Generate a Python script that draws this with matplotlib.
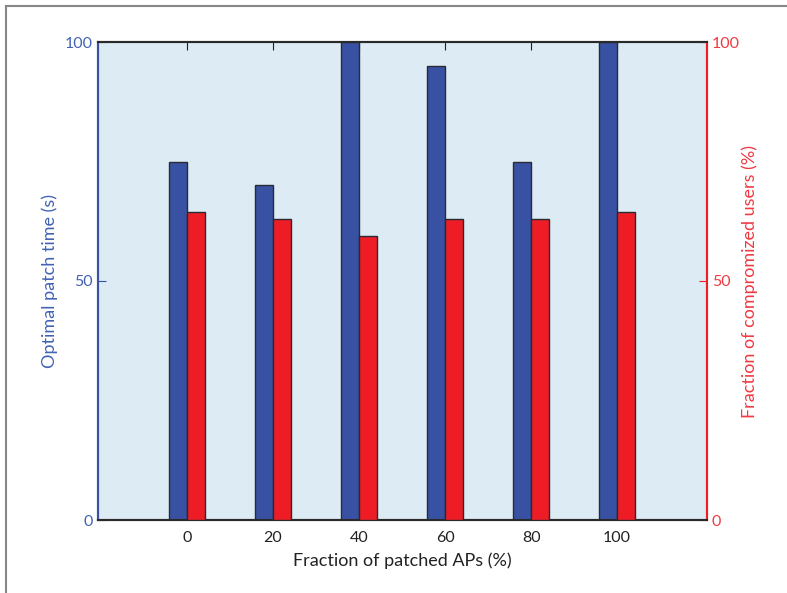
import matplotlib.pyplot as plt
from matplotlib.lines import Line2D

plt.rcParams['font.family'] = ['Lato', 'DejaVu Sans']

fractions = [0, 20, 40, 60, 80, 100]
patch_time = [75, 70, 100, 95, 75, 100]
compromised = [64.5, 63, 59.5, 63, 63, 64.5]

blue = "#3851a3"
red = "#ee1d25"
blue_txt = "#4262b4"
red_txt = "#f03a42"

fig = plt.figure(figsize=(7.87, 5.93), dpi=100)
ax = fig.add_axes([98 / 787, 1 - 520 / 593, 609 / 787, 478 / 593])
ax.set_facecolor("#ddebf4")
ax2 = ax.twinx()

w = 4.1
ax.bar([f - w / 2 for f in fractions], patch_time, width=w, color=blue,
       edgecolor="#2a2a33", linewidth=1.0, zorder=3)
ax2.bar([f + w / 2 for f in fractions], compromised, width=w, color=red,
        edgecolor="#2a2a33", linewidth=1.0, zorder=3)

ax.set_xlim(-20.7, 120.9)
ax.set_ylim(0, 100)
ax2.set_ylim(0, 100)
ax.set_xticks(fractions)
ax.set_yticks([0, 50, 100])
ax2.set_yticks([0, 50, 100])

ax.tick_params(axis="x", direction="in", top=True, length=6, labelsize=11.5,
               colors="#222222", pad=8)
ax.tick_params(axis="y", direction="in", length=6, labelsize=11.5,
               colors=blue, labelcolor=blue_txt)
ax2.tick_params(axis="y", direction="in", length=6, labelsize=11.5,
                colors=red, labelcolor=red_txt)

ax.set_xlabel("Fraction of patched APs (%)", fontsize=13, color="#222222", labelpad=5)
ax.set_ylabel("Optimal patch time (s)", fontsize=13, color=blue_txt, labelpad=5)
ax2.set_ylabel("Fraction of compromized users (%)", fontsize=13, color=red_txt, labelpad=1)

for a in (ax, ax2):
    a.spines["top"].set_color("#2a2a2a")
    a.spines["bottom"].set_color("#2a2a2a")
    a.spines["top"].set_linewidth(1.5)
    a.spines["bottom"].set_linewidth(1.5)
    a.spines["left"].set_color(blue)
    a.spines["right"].set_color(red)
    a.spines["left"].set_linewidth(1.5)
    a.spines["right"].set_linewidth(1.5)

# frame lines on the left and top of the figure
fig.add_artist(Line2D([6 / 787, 6 / 787], [0, 1 - 6 / 593], color="#888888", linewidth=1.5))
fig.add_artist(Line2D([6 / 787, 1], [1 - 6 / 593, 1 - 6 / 593], color="#888888", linewidth=1.5))

fig.savefig("out.png", dpi=100)
